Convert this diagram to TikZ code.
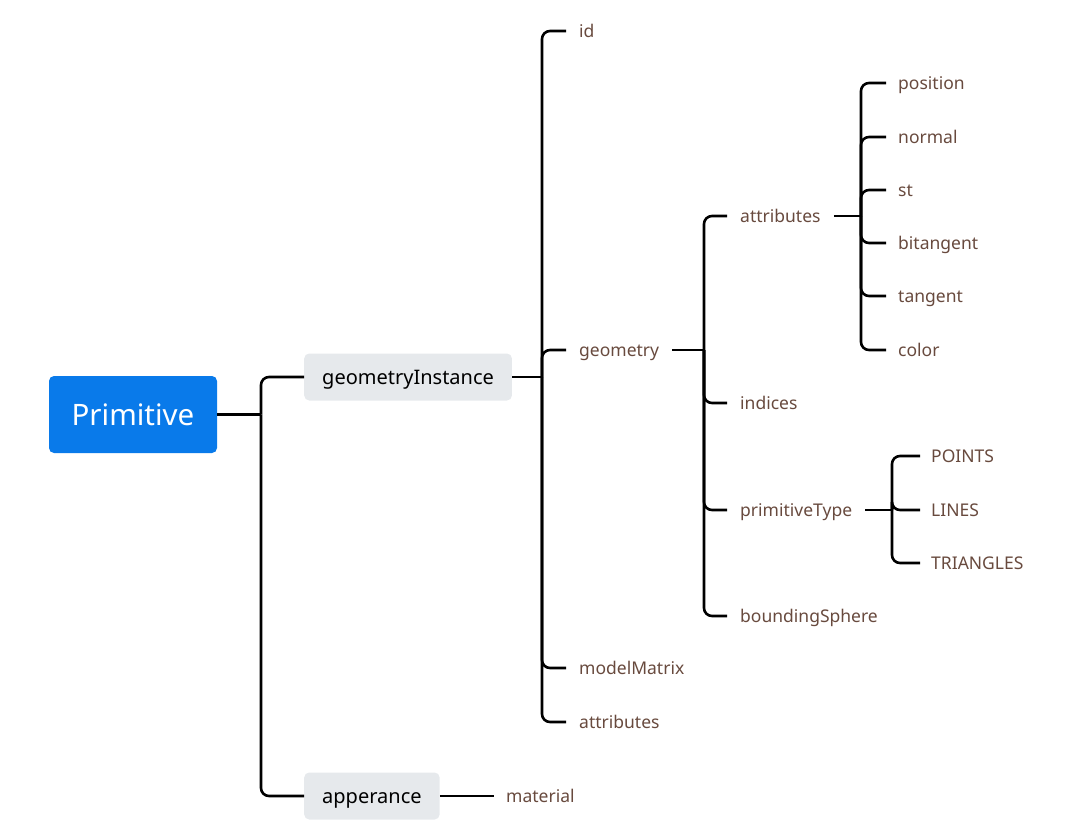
\documentclass[tikz,border=0pt]{standalone}
\usepackage{fontspec}
\setmainfont{Noto Sans}
\definecolor{rootblue}{RGB}{9,122,234}
\definecolor{boxgray}{RGB}{230,233,236}
\definecolor{leaftext}{RGB}{104,74,62}
\begin{document}
\begin{tikzpicture}[x=1pt,y=-1pt,
  conn/.style={line width=2.6pt,rounded corners=8pt},
  rootbox/.style={fill=rootblue,text=white,rounded corners=5pt,minimum width=168pt,minimum height=77pt,font=\fontsize{29.5}{34}\selectfont,inner sep=0pt,text height=21pt,text depth=0pt},
  midbox/.style={fill=boxgray,text=black,rounded corners=5pt,minimum height=47pt,inner xsep=18pt,inner ysep=0pt,font=\fontsize{20}{24}\selectfont,anchor=west,text height=16pt,text depth=2pt},
  leaf/.style={text=leaftext,font=\fontsize{17.5}{21}\selectfont,inner xsep=13pt,inner ysep=0pt,anchor=west,text height=15pt,text depth=2pt}
]
\useasboundingbox (0,0) rectangle (1070,839);
% root
\node[rootbox] (root) at (133,414.5) {Primitive};
\node[midbox] (gi) at (304,377) {geometryInstance};
\node[midbox] (ap) at (304,796) {apperance};
\coordinate (j0) at (261,414.5);
\draw[conn] (root.east) -- (j0);
\draw[conn] (j0) |- (gi.west);
\draw[conn] (j0) |- (ap.west);
% material
\node[leaf,inner xsep=12pt] (material) at (494,796) {material};
\draw[conn] (ap.east) -- (material.west);
% geometryInstance children
\coordinate (j1) at (542,377);
\node[leaf] (id) at (566,31) {id};
\node[leaf] (geometry) at (566,350) {geometry};
\node[leaf] (modelMatrix) at (566,668) {modelMatrix};
\node[leaf] (gattr) at (566,722) {attributes};
\draw[conn] (gi.east) -- (j1);
\foreach \n in {id,geometry,modelMatrix,gattr} \draw[conn] (j1) |- (\n.west);
% geometry children
\coordinate (j2) at (704,350);
\node[leaf] (attributes) at (727,216) {attributes};
\node[leaf] (indices) at (727,403) {indices};
\node[leaf] (primitiveType) at (727,510) {primitiveType};
\node[leaf] (boundingSphere) at (727,616) {boundingSphere};
\draw[conn] (geometry.east) -- (j2);
\foreach \n in {attributes,indices,primitiveType,boundingSphere} \draw[conn] (j2) |- (\n.west);
% attributes children
\coordinate (j3) at (861,216);
\node[leaf,inner xsep=12pt] (position) at (886,83) {position};
\node[leaf,inner xsep=12pt] (normal) at (886,137) {normal};
\node[leaf,inner xsep=12pt] (st) at (886,190) {st};
\node[leaf,inner xsep=12pt] (bitangent) at (886,243) {bitangent};
\node[leaf,inner xsep=12pt] (tangent) at (886,296) {tangent};
\node[leaf,inner xsep=12pt] (color) at (886,350) {color};
\draw[conn] (attributes.east) -- (j3);
\foreach \n in {position,normal,st,bitangent,tangent,color} \draw[conn] (j3) |- (\n.west);
% primitiveType children
\coordinate (j4) at (892,510);
\node[leaf,inner xsep=11pt] (points) at (920,456) {POINTS};
\node[leaf,inner xsep=11pt] (lines) at (920,510) {LINES};
\node[leaf,inner xsep=11pt] (triangles) at (920,563) {TRIANGLES};
\draw[conn] (primitiveType.east) -- (j4);
\foreach \n in {points,lines,triangles} \draw[conn] (j4) |- (\n.west);
\end{tikzpicture}
\end{document}
